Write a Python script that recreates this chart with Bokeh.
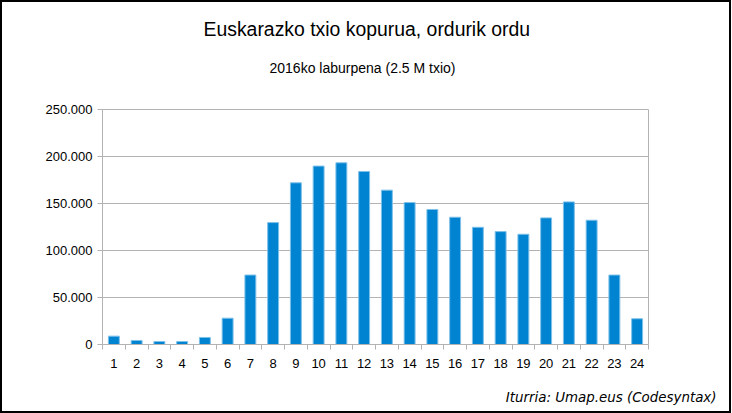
from bokeh.plotting import figure
from bokeh.models import Range1d, FixedTicker, Title, ColumnDataSource
from bokeh.embed import file_html
from bokeh.resources import INLINE

hours = list(range(1, 25))
tweets = [8900, 4300, 3200, 3200, 7500, 28000, 73900, 129700, 172000, 189800,
          193300, 184100, 164200, 151000, 143600, 135400, 124700, 120100, 117300,
          134700, 151700, 132200, 73900, 27400]
y_ticks = [0, 50000, 100000, 150000, 200000, 250000]
y_tick_labels = ["0", "50.000", "100.000", "150.000", "200.000", "250.000"]
title_text = "Euskarazko txio kopurua, ordurik ordu"
subtitle_text = "2016ko laburpena (2.5 M txio)"
source_text = "Iturria: Umap.eus (Codesyntax)"

FONT = "Liberation Sans"
GRAY = "#b3b3b3"

p = figure(width=727, height=409, output_backend="svg", toolbar_location=None,
           x_range=Range1d(0.5, 24.5), y_range=Range1d(0, 250000),
           min_border_left=100, min_border_right=85, min_border_top=107,
           min_border_bottom=71)
p.background_fill_color = "white"
p.border_fill_color = "white"
p.outline_line_color = GRAY
p.styles = {"border": "2px solid black", "box-sizing": "content-box"}

src = ColumnDataSource(dict(x=hours, top=tweets))
p.vbar(x="x", top="top", width=0.48, bottom=0, source=src,
       fill_color="#0084d1", line_color="#7ec0ea", line_width=1)

xa = p.xaxis[0]
xa.ticker = FixedTicker(ticks=hours, minor_ticks=[h + 0.5 for h in range(0, 25)])
xa.major_tick_out = 0
xa.major_tick_in = 0
xa.minor_tick_out = 5
xa.minor_tick_in = 0
xa.minor_tick_line_color = GRAY
xa.axis_line_color = GRAY
xa.major_label_text_font = FONT
xa.major_label_text_font_size = "13px"
xa.major_label_text_color = "black"
xa.major_label_standoff = 9

ya = p.yaxis[0]
ya.ticker = FixedTicker(ticks=y_ticks)
ya.major_label_overrides = {t: l for t, l in zip(y_ticks, y_tick_labels)}
ya.major_tick_out = 5
ya.major_tick_in = 0
ya.minor_tick_line_color = None
ya.major_tick_line_color = GRAY
ya.axis_line_color = GRAY
ya.major_label_text_font = FONT
ya.major_label_text_font_size = "13px"
ya.major_label_text_color = "black"
ya.major_label_standoff = 5

p.xgrid.grid_line_color = None
p.ygrid.grid_line_color = GRAY
p.ygrid.ticker = FixedTicker(ticks=y_ticks)

# main title (outermost)
p.title.text = title_text
p.title.text_font = FONT
p.title.text_font_size = "19.4px"
p.title.text_font_style = "normal"
p.title.text_color = "black"
p.title.align = "left"
p.title.offset = 101
p.title.vertical_align = "top"
p.title.standoff = 3.4

# subtitle (nearest the frame); a trailing blank line adds space below it
p.add_layout(Title(text=subtitle_text + "\n", text_font=FONT, text_font_size="14px",
                   text_font_style="normal", text_color="black", align="left",
                   offset=167, vertical_align="top", standoff=32), "above")

# source note below the axis; leading blank line adds space above it
p.add_layout(Title(text="\n" + source_text, text_font="DejaVu Sans", text_font_size="13.4px",
                   text_font_style="italic", text_color="black", align="right",
                   offset=-68, vertical_align="bottom", standoff=4), "below")

open("out.html", "w").write(file_html(p, INLINE))
